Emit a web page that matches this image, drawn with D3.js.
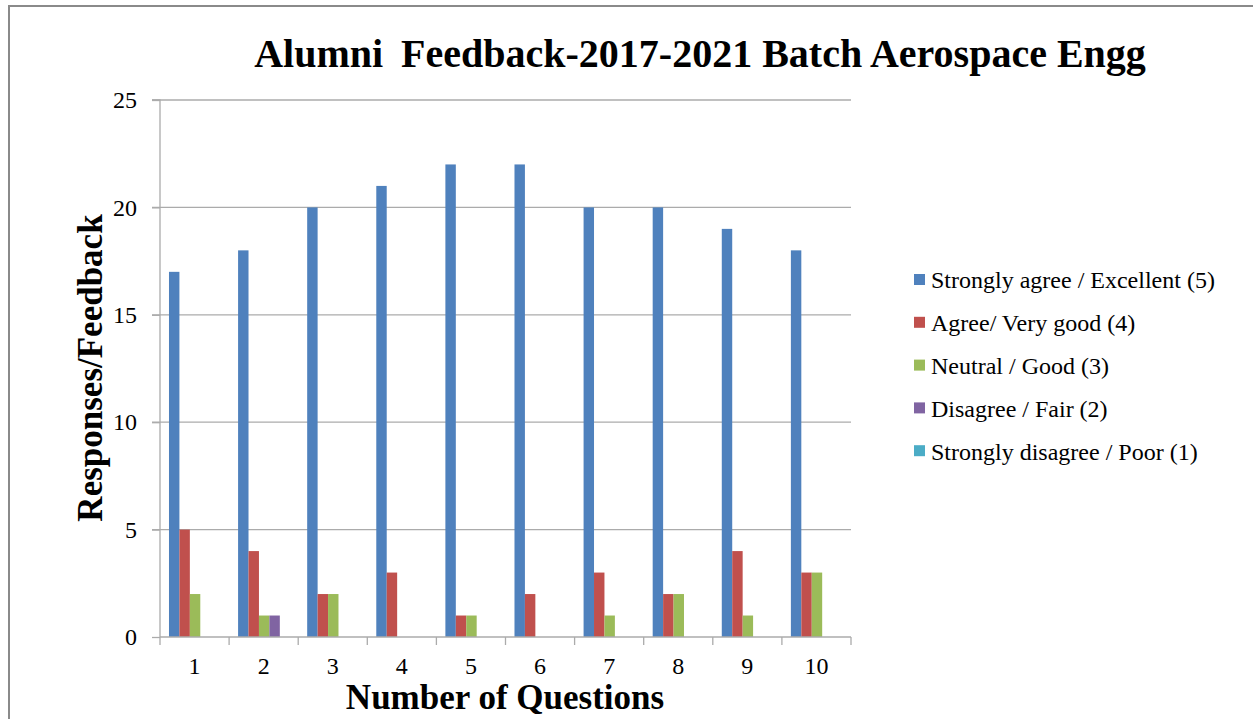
<!DOCTYPE html>
<html><head><meta charset="utf-8">
<script src="https://cdn.jsdelivr.net/npm/d3@7"></script>
<style>html,body{margin:0;padding:0;background:#fff;overflow:hidden}</style>
</head><body>
<svg id="chart" width="1253" height="719"></svg>
<script>
const categories = ["1","2","3","4","5","6","7","8","9","10"];
const seriesNames = ["Strongly agree / Excellent (5)","Agree/ Very good (4)","Neutral / Good (3)","Disagree / Fair (2)","Strongly disagree / Poor (1)"];
const stronglyAgree = [17,18,20,21,22,22,20,20,19,18];
const agree = [5,4,2,3,1,2,3,2,4,3];
const neutral = [2,1,2,0,1,0,1,2,1,3];
const disagree = [0,1,0,0,0,0,0,0,0,0];
const stronglyDisagree = [0,0,0,0,0,0,0,0,0,0];
const yTicks = [0,5,10,15,20,25];
const colors = ["#4F81BD","#C0504D","#9BBB59","#8064A2","#4BACC6"];
const titleText = "Alumni  Feedback-2017-2021 Batch Aerospace Engg";
const xTitle = "Number of Questions";
const yTitle = "Responses/Feedback";

const seriesValues = [stronglyAgree, agree, neutral, disagree, stronglyDisagree];
const font = "'Liberation Serif','Times New Roman',serif";
const svg = d3.select("#chart");

// outer border
svg.append("rect").attr("x",9).attr("y",6).attr("width",1300).attr("height",800)
  .attr("fill","none").attr("stroke","#8a8a8a").attr("stroke-width",2);

const plot = {left:160, right:851, top:100, bottom:637};
const x0 = d3.scaleBand().domain(categories).range([plot.left, plot.right]).paddingInner(0).paddingOuter(0);
const cw = x0.bandwidth();
const x1 = d3.scaleBand().domain(d3.range(seriesNames.length)).range([cw*0.13, cw*0.885]).padding(0);
const y = d3.scaleLinear().domain([0,25]).range([plot.bottom, plot.top]);

// gridlines
svg.append("g").selectAll("line").data(yTicks.filter(d=>d>0)).join("line")
  .attr("x1",plot.left-8).attr("x2",plot.right)
  .attr("y1",d=>y(d)).attr("y2",d=>y(d))
  .attr("stroke","#ababab").attr("stroke-width",1.3);

// bars
const g = svg.append("g");
seriesValues.forEach((vals, si) => {
  g.append("g").selectAll("rect").data(vals.map((v,i)=>({v, c:categories[i]}))).join("rect")
    .attr("x", d => x0(d.c) + x1(si))
    .attr("width", x1.bandwidth())
    .attr("y", d => y(d.v))
    .attr("height", d => y(0) - y(d.v))
    .attr("fill", colors[si]);
});

// y axis
const yAxis = d3.axisLeft(y).tickValues(yTicks).tickSize(8).tickPadding(15).tickFormat(d3.format("d"));
const ya = svg.append("g").attr("transform",`translate(${plot.left},0)`).call(yAxis);
ya.select(".domain").attr("stroke","#ababab").attr("stroke-width",1.3).attr("d",`M-8,${plot.top}H0V${plot.bottom}`);
ya.selectAll(".tick line").attr("stroke","#ababab").attr("stroke-width",1.3);
ya.selectAll(".tick text").attr("font-family",font).attr("font-size",24).attr("fill","#000");

// x axis
const xAxis = d3.axisBottom(x0).tickSize(0).tickPadding(20);
const xa = svg.append("g").attr("transform",`translate(0,${plot.bottom})`).call(xAxis);
xa.select(".domain").attr("stroke","#ababab").attr("stroke-width",1.3).attr("d",`M${plot.left},0H${plot.right}`);
xa.selectAll(".tick text").attr("font-family",font).attr("font-size",24).attr("fill","#000");
// category boundary ticks
const bounds = categories.map(c=>x0(c)).concat([plot.right]);
svg.append("g").selectAll("line").data(bounds).join("line")
  .attr("x1",d=>d).attr("x2",d=>d).attr("y1",plot.bottom).attr("y2",plot.bottom+8)
  .attr("stroke","#ababab").attr("stroke-width",1.3);

// title
svg.append("text").attr("x",700).attr("y",67).attr("text-anchor","middle")
  .attr("font-family",font).attr("font-weight","bold").attr("font-size",40)
  .text(titleText.replace("  "," \u2009"));

// axis titles
svg.append("text").attr("x",505).attr("y",709).attr("text-anchor","middle")
  .attr("font-family",font).attr("font-weight","bold").attr("font-size",35).text(xTitle);
svg.append("text").attr("transform","translate(102,368) rotate(-90)").attr("text-anchor","middle")
  .attr("font-family",font).attr("font-weight","bold").attr("font-size",35).text(yTitle);

// legend
const leg = svg.append("g").attr("transform","translate(914,280)");
const li = leg.selectAll("g").data(seriesNames).join("g").attr("transform",(d,i)=>`translate(0,${i*42.8})`);
li.append("rect").attr("x",0).attr("y",-6).attr("width",11).attr("height",11).attr("fill",(d,i)=>colors[i]);
li.append("text").attr("x",17).attr("y",0).attr("dy","0.35em").attr("font-family",font).attr("font-size",24).attr("fill","#000").text(d=>d);
</script>
</body></html>
